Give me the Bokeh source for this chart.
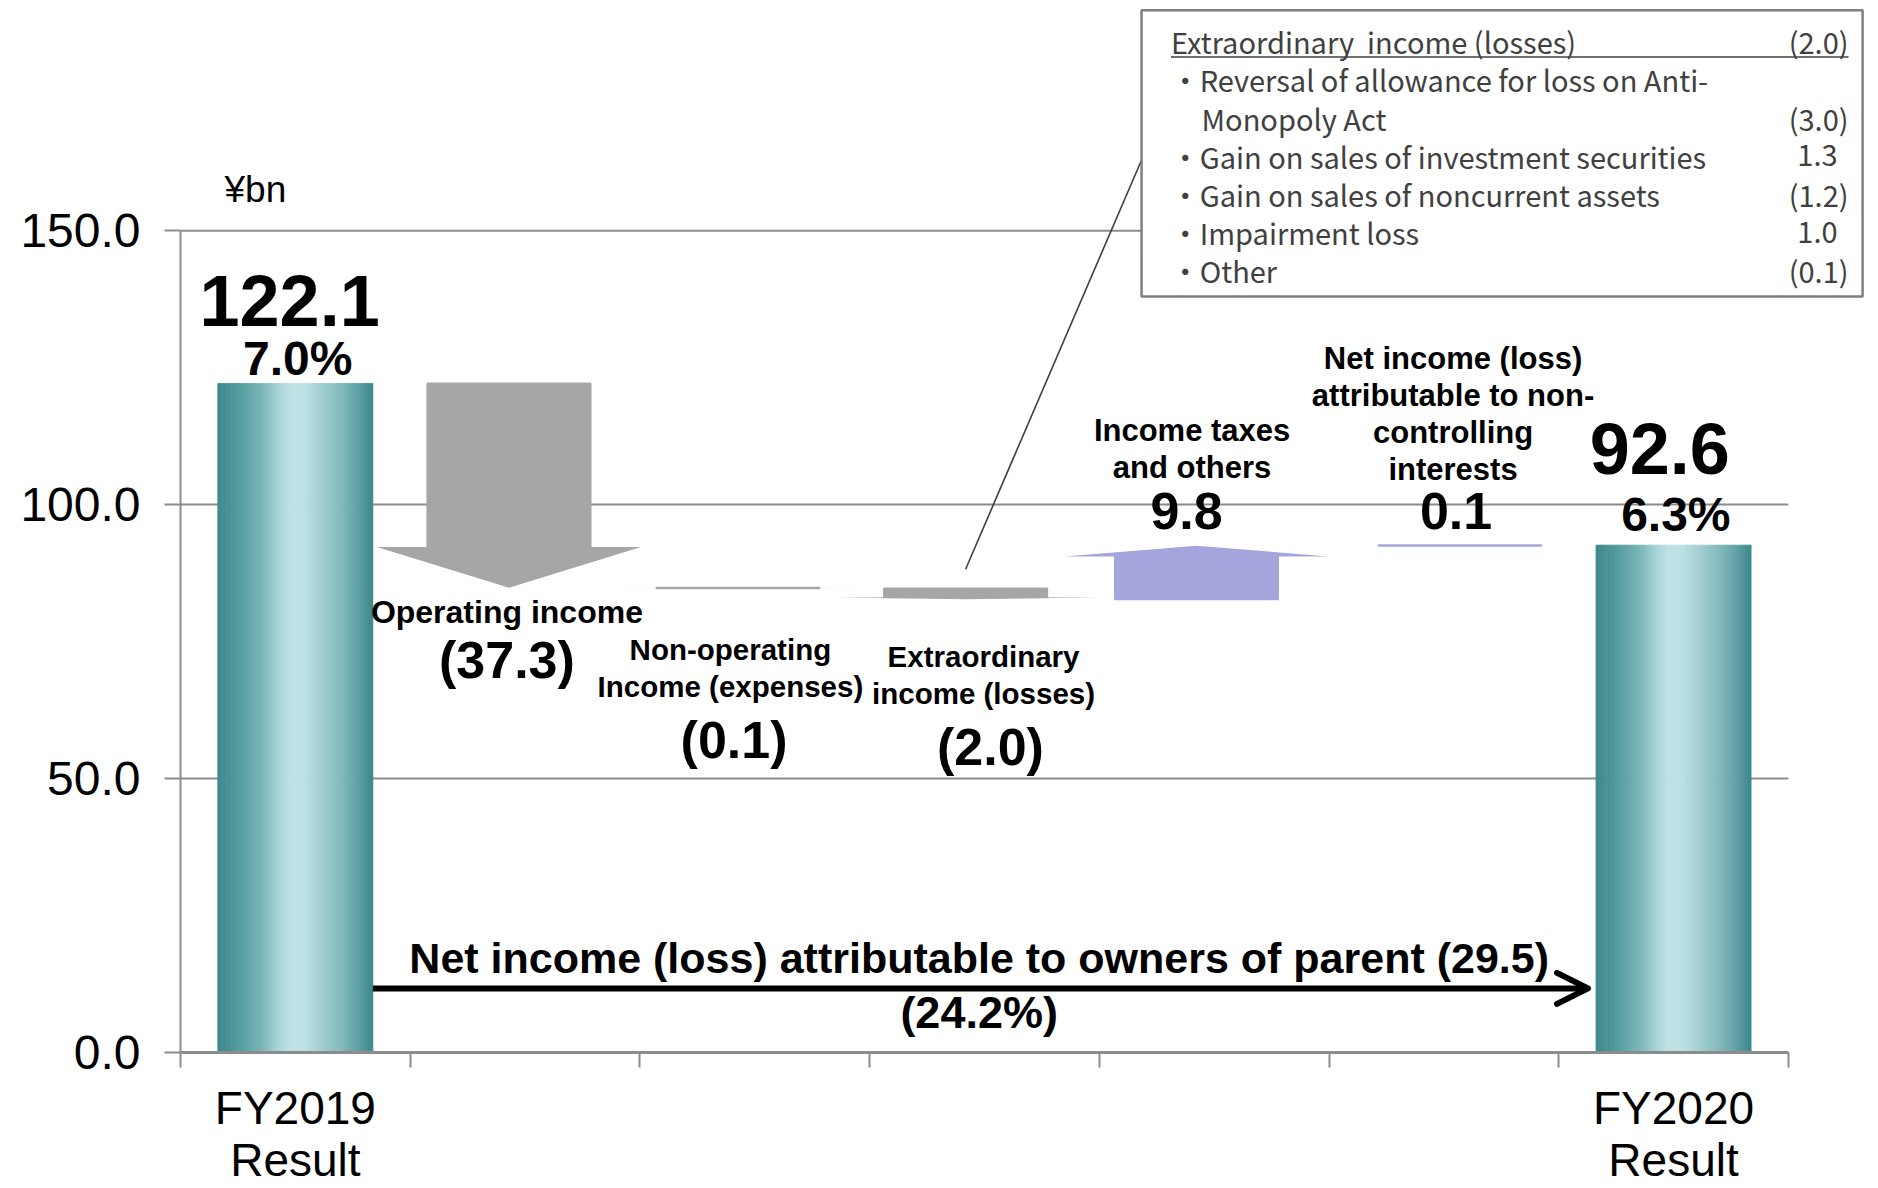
import numpy as np
from bokeh.plotting import figure
from bokeh.models import Range1d, FixedTicker, PrintfTickFormatter, Arrow, OpenHead
from bokeh.core.properties import value
from bokeh.embed import file_html
from bokeh.resources import INLINE

# ---------------- data (¥bn) ----------------
categories = [
    "FY2019\nResult",
    "Operating income",
    "Non-operating\nIncome (expenses)",
    "Extraordinary\nincome (losses)",
    "Income taxes\nand others",
    "Net income (loss)\nattributable to non-\ncontrolling\ninterests",
    "FY2020\nResult",
]
start_total = 122.1
end_total = 92.6
start_margin = "7.0%"
end_margin = "6.3%"
step_values = [-37.3, -0.1, -2.0, 9.8, 0.1]
y_ticks = [0, 50, 100, 150]
unit_label = "¥bn"
owners_label = "Net income (loss) attributable to owners of parent"
breakdown_title = "Extraordinary\u00a0 income (losses)"
breakdown_items = [
    "Reversal of allowance for loss on Anti-\nMonopoly Act",
    "Gain on sales of investment securities",
    "Gain on sales of noncurrent assets",
    "Impairment loss",
    "Other",
]
breakdown_values = [-3.0, 1.3, -1.2, 1.0, -0.1]


def fmt(v):
    return f"({abs(v):.1f})" if v < 0 else f"{v:.1f}"


# ---------------- figure ----------------
PX_X = 229.7          # pixels per category slot
PX_Y = 5.5            # pixels per ¥bn
FRAME_W, FRAME_H = 1698, 1056
n_cat = len(categories)

p = figure(width=1878, height=1188, output_backend="svg", toolbar_location=None,
           x_range=Range1d(0, FRAME_W / PX_X), y_range=Range1d(0, FRAME_H / PX_Y),
           min_border_left=180, min_border_right=0, min_border_top=0, min_border_bottom=132)
p.outline_line_color = None
p.background_fill_color = "white"
p.border_fill_color = "white"
p.xgrid.visible = False
p.ygrid.visible = False

AXIS_GREY = "#8c8c8c"
SANS = "Liberation Sans"

# y axis
p.yaxis.ticker = FixedTicker(ticks=y_ticks)
p.yaxis.formatter = PrintfTickFormatter(format="%.1f")
p.yaxis.bounds = (y_ticks[0], y_ticks[-1])
p.yaxis.axis_line_color = AXIS_GREY
p.yaxis.axis_line_width = 2
p.yaxis.major_tick_line_color = AXIS_GREY
p.yaxis.major_tick_line_width = 2
p.yaxis.major_tick_out = 16
p.yaxis.major_tick_in = 0
p.yaxis.minor_tick_line_color = None
p.yaxis.major_label_text_font = SANS
p.yaxis.major_label_text_font_size = "48px"
p.yaxis.major_label_text_color = "black"
p.yaxis.major_label_standoff = 24

# x axis: slot boundaries as (minor) ticks, end categories as labels
p.xaxis.ticker = FixedTicker(ticks=[0.5, n_cat - 0.5], minor_ticks=list(range(n_cat + 1)))
p.xaxis.major_label_overrides = {0.5: categories[0], n_cat - 0.5: categories[-1]}
p.xaxis.bounds = (0, n_cat)
p.xaxis.axis_line_color = AXIS_GREY
p.xaxis.axis_line_width = 3
p.xaxis.major_tick_line_color = None
p.xaxis.major_tick_out = 0
p.xaxis.major_tick_in = 0
p.xaxis.minor_tick_line_color = AXIS_GREY
p.xaxis.minor_tick_line_width = 2
p.xaxis.minor_tick_out = 15
p.xaxis.minor_tick_in = 0
p.xaxis.major_label_text_font = SANS
p.xaxis.major_label_text_font_size = "46px"
p.xaxis.major_label_text_line_height = 1.0
p.xaxis.major_label_text_color = "black"
p.xaxis.major_label_standoff = 14

# horizontal gridlines
grid_y = y_ticks[1:]
p.segment(x0=[0] * len(grid_y), x1=[n_cat] * len(grid_y), y0=grid_y, y1=grid_y,
          line_color=AXIS_GREY, line_width=2)


def put_text(xs, baselines, texts, size, font=SANS, bold=True, align="center", color="black"):
    """Place text so that its alphabetic baseline sits at the given data y."""
    ys = [b + 0.35 * size / PX_Y for b in baselines]
    p.text(x=xs, y=ys, text=texts, text_font=value(font),
           text_font_style="bold" if bold else "normal",
           text_font_size=f"{size}px", text_align=align, text_baseline="middle",
           text_color=color)


# ---------------- total bars with a cylindrical teal shading ----------------
stop_pos = [0.0, 0.12, 0.28, 0.40, 0.47, 0.56, 0.66, 0.80, 0.92, 1.0]
stop_rgb = np.array([(59, 137, 140), (80, 152, 155), (120, 180, 183), (170, 214, 217),
                     (190, 226, 229), (188, 225, 228), (165, 208, 211), (130, 185, 188),
                     (92, 158, 161), (59, 135, 138)], dtype=float)
BAR_W = 0.675
N_STRIP = 80


def shaded_bar(center, height):
    edges = center - BAR_W / 2 + np.linspace(0, BAR_W, N_STRIP + 1)
    mids = (np.arange(N_STRIP) + 0.5) / N_STRIP
    cols = []
    for t in mids:
        rgb = [np.interp(t, stop_pos, stop_rgb[:, c]) for c in range(3)]
        cols.append("#%02x%02x%02x" % tuple(int(round(v)) for v in rgb))
    p.quad(left=edges[:-1], right=edges[1:], bottom=0, top=height,
           fill_color=cols, line_color=cols, line_width=0.8)


totals = [start_total, end_total]
total_x = [0.5, n_cat - 0.5]
for cx, h in zip(total_x, totals):
    shaded_bar(cx, h)

# value and margin above each total bar
big_dx = [-0.025, -0.06]
big_dy = [10.4, 13.0]
pct_dx = [0.01, 0.01]
pct_dy = [1.5, 2.5]
put_text([cx + d for cx, d in zip(total_x, big_dx)], [h + d for h, d in zip(totals, big_dy)],
         [f"{v:.1f}" for v in totals], 72)
put_text([cx + d for cx, d in zip(total_x, pct_dx)], [h + d for h, d in zip(totals, pct_dy)],
         [start_margin, end_margin], 48)

# ---------------- step arrows ----------------
SHAFT_HW = 0.355
HEAD_HW = 0.575
HEAD_FRAC = 0.2
step_nudge = [-0.070, -0.073, -0.082, -0.077, 0.070]
DOWN_COL = "#a6a6a6"
UP_COL = "#a5a5dd"

starts = start_total + np.concatenate([[0], np.cumsum(step_values)[:-1]])
ends = starts + np.array(step_values)
centers = []
xs, ys, cols = [], [], []
sl, sr, sb, st, scol = [], [], [], [], []
for i, (s, e, v) in enumerate(zip(starts, ends, step_values)):
    cx = i + 1.5 + step_nudge[i]
    centers.append(cx)
    d = 1 if v > 0 else -1
    hl = HEAD_FRAC * abs(v)
    base = e - d * hl
    xs.append([cx - SHAFT_HW, cx + SHAFT_HW, cx + SHAFT_HW, cx + HEAD_HW, cx,
               cx - HEAD_HW, cx - SHAFT_HW])
    ys.append([s, s, base, base, e, base, base])
    c = UP_COL if v > 0 else DOWN_COL
    cols.append(c)
    sl.append(cx - SHAFT_HW)
    sr.append(cx + SHAFT_HW)
    sb.append(min(s, base))
    st.append(max(s, base))
    scol.append(c)

p.patches(xs=xs, ys=ys, fill_color=cols, line_color=None)
p.quad(left=sl, right=sr, bottom=sb, top=st, fill_color=scol, line_color=scol, line_width=2)

# step captions
name_x = [1.421, 2.394, 3.496, 4.404, 5.540]
name_y = [78.4, 71.6, 70.4, 111.6, 124.7]
name_size = [32, 29.5, 29.5, 31, 31]
LINE_GAP = 37 / PX_Y
val_x = [1.421, 2.410, 3.526, 4.380, 5.553]
val_y = [68.4, 53.8, 52.4, 95.5, 95.5]

for i, label in enumerate(categories[1:-1]):
    lines = label.split("\n")
    put_text([name_x[i]] * len(lines), [name_y[i] - k * LINE_GAP for k in range(len(lines))],
             lines, name_size[i])
put_text(val_x, val_y, [fmt(v) for v in step_values], 52)

# ---------------- net change arrow ----------------
change = end_total - start_total
change_pct = change / start_total * 100
arrow_y = 11.7
arrow_x0 = total_x[0] + BAR_W / 2
arrow_x1 = total_x[1] - BAR_W / 2 - 0.035
p.add_layout(Arrow(x_start=arrow_x0, y_start=arrow_y, x_end=arrow_x1, y_end=arrow_y,
                   line_width=6, line_color="black",
                   end=OpenHead(size=31, line_width=6, line_color="black",
                                line_cap="round", line_join="round")))
mid_x = 3.477
put_text([mid_x], [14.5], [f"{owners_label} {fmt(change)}"], 43)
put_text([mid_x], [4.4], [f"({abs(change_pct):.1f}%)"], 45)

# unit caption
put_text([0.326], [155.2], [unit_label], 37, bold=False)

# ---------------- breakdown call-out ----------------
BOX_L, BOX_R, BOX_T, BOX_B = 4.184, 7.323, 190.2, 138.0
ext_i = 2
p.segment(x0=[BOX_L], y0=[162.9], x1=[centers[ext_i]], y1=[starts[ext_i] + 3.5],
          line_color="#3f3f3f", line_width=1.6)
p.quad(left=[BOX_L], right=[BOX_R], top=[BOX_T], bottom=[BOX_B], fill_color="white",
       line_color="#7f7f7f", line_width=2.5)

BOX_FONT = "Noto Sans CJK JP"
BOX_COL = "#404040"
BOX_SIZE = 29
ROW_GAP = 38.3 / PX_Y
row0_y = 182.7
title_x = 4.312
item_x = 4.311
cont_x = 4.445
num_x = 7.262
num_pos_x = 7.214

left_x, left_y, left_t = [title_x], [row0_y], [breakdown_title]
right_x, right_y, right_t = [num_x], [row0_y], [fmt(step_values[ext_i])]
row = 1
for item, v in zip(breakdown_items, breakdown_values):
    lines = item.split("\n")
    for k, ln in enumerate(lines):
        yy = row0_y - row * ROW_GAP
        left_x.append(item_x if k == 0 else cont_x)
        left_y.append(yy)
        left_t.append(("・" + ln) if k == 0 else ln)
        if k == len(lines) - 1:
            right_x.append(num_x if v < 0 else num_pos_x)
            right_y.append(yy)
            right_t.append(fmt(v))
        row += 1
put_text(left_x, left_y, left_t, BOX_SIZE, font=BOX_FONT, bold=False, align="left", color=BOX_COL)
put_text(right_x, right_y, right_t, BOX_SIZE, font=BOX_FONT, bold=False, align="right", color=BOX_COL)
p.segment(x0=[title_x], x1=[num_x], y0=[row0_y - 1.0], y1=[row0_y - 1.0],
          line_color=BOX_COL, line_width=1.5)

open("out.html", "w").write(file_html(p, INLINE))
